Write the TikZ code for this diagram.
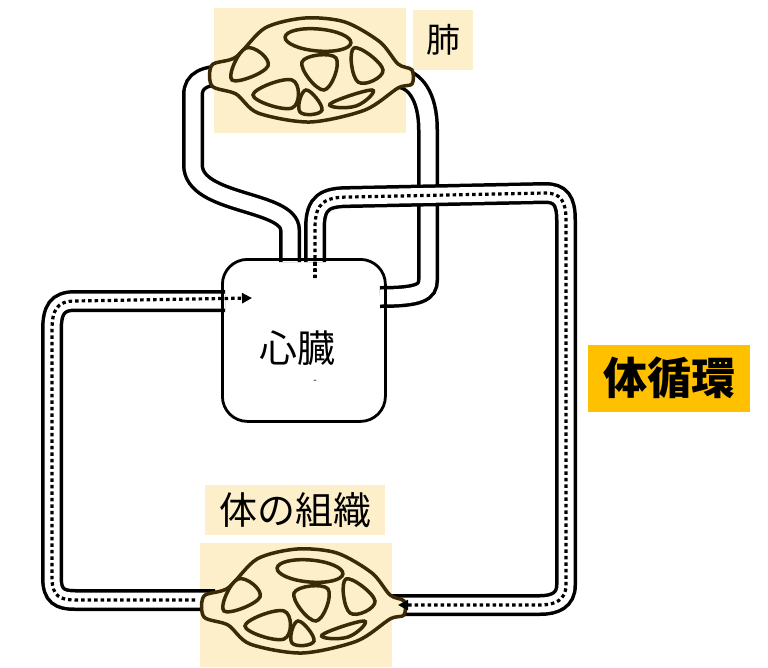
\documentclass[tikz,border=0pt]{standalone}
\usepackage{fontspec}
\newfontfamily\cjk{Noto Sans CJK JP}
\usetikzlibrary{arrows.meta}
\definecolor{bgy}{HTML}{FCEFC9}
\definecolor{brn}{HTML}{3A2A05}
\definecolor{gold}{HTML}{FFC000}
\newcommand\mybed{%
  \draw[brn,line width=3.5pt,fill=bgy] plot[smooth cycle,tension=0.5] coordinates{(212,65)(236,57)(265,28)(305,18)(345,22)(380,42)(398,64)(412,70)(412,84)(398,88)(365,110)(310,122)(258,113)(236,94)(212,86)};
  \draw[hole] (318,40) ellipse[x radius=33pt,y radius=11pt,rotate=-5];
  \draw[hole] plot[smooth cycle,tension=0.8] coordinates{(232,80)(246,48)(268,66)};
  \draw[hole] plot[smooth cycle,tension=0.8] coordinates{(302,62)(336,58)(324,90)};
  \draw[hole] plot[smooth cycle,tension=0.8] coordinates{(354,48)(383,70)(358,82)};
  \draw[hole] plot[smooth cycle,tension=0.8] coordinates{(253,95)(292,80)(292,108)};
  \draw[hole] plot[smooth cycle,tension=0.8] coordinates{(300,112)(306,90)(322,110)};
  \draw[hole] plot[smooth cycle,tension=0.8] coordinates{(330,104)(372,90)(356,106)};
}
\begin{document}
\begin{tikzpicture}[x=1pt,y=-1pt,
  tube/.style={draw=black,line width=3.5pt,double=white,double distance=15pt},
  dots/.style={line width=3.2pt,dash pattern=on 3.5pt off 3pt},
  hole/.style={brn,line width=3.5pt,fill=bgy},
  bgbox/.style={fill=bgy,draw=none},
  lbl/.style={font=\cjk\fontsize{38}{40}\selectfont,inner sep=0pt}]
\useasboundingbox (0,0) rectangle (768,667);
\fill[bgy] (214,8) rectangle (406,133);
\node[bgbox,minimum width=60pt,minimum height=60pt,lbl,font=\cjk\fontsize{34}{36}\selectfont] (lunglbl) at (443,40) {肺};
\fill[bgy] (200,543) rectangle (392,667);
\node[bgbox,minimum width=180pt,minimum height=50pt,lbl] (tislbl) at (295,510) {体の組織};
\coordinate (hA) at (290,262);
\coordinate (hB) at (315,262);
\coordinate (hR) at (380,297);
\coordinate (hL) at (225,301);
\coordinate (luL) at (228,75);
\coordinate (luR) at (400,78);
\coordinate (tiR) at (385,605);
\coordinate (tiL) at (215,600);
\path[tube] (hA) -- (290,230) .. controls (290,200) and (193,205) .. (193,165) -- (193,95) .. controls (193,80) and (205,75) .. (luL);
\path[tube] (luR) .. controls (414,80) and (428,95) .. (428,130) -- (428,280) .. controls (428,292) and (420,297) .. (hR);
\path[tube] (hB) -- (315,228) .. controls (315,202) and (325,197) .. (350,197) -- (545,193) .. controls (560,193) and (566,200) .. (566,220) -- (566,585) .. controls (566,600) and (555,605) .. (540,605) -- (tiR);
\path[tube] (hL) -- (75,301) .. controls (57,301) and (52,310) .. (52,330) -- (52,578) .. controls (52,596) and (60,600) .. (75,600) -- (tiL);
\mybed
\begin{scope}[shift={(-8,531)}]\mybed\end{scope}
\draw[dots,-{Triangle[length=10pt,width=10pt]}] (195,600) -- (75,600) .. controls (60,600) and (52,596) .. (52,578) -- (52,330) .. controls (52,310) and (57,301) .. (75,301) -- (252,298);
\draw[dots,-{Triangle[length=10pt,width=10pt]}] (315,278) -- (315,228) .. controls (315,202) and (325,197) .. (350,197) -- (545,193) .. controls (560,193) and (566,200) .. (566,220) -- (566,585) .. controls (566,600) and (555,605) .. (540,605) -- (398,605);
\node[draw,line width=2.8pt,fill=none,rounded corners=25pt,minimum width=163pt,minimum height=162pt,anchor=north west] (heart) at (221,258) {};
\draw[line width=3.2pt,dash pattern=on 3.5pt off 3pt] (315,262) -- (315,278);
\node[lbl] (heartlbl) at (297,348) {心臓};
\node[font=\cjk\fontsize{10}{10}\selectfont,inner sep=0pt] (mark) at (315,382) {-};
\node[fill=gold,minimum width=162pt,minimum height=67pt,inner sep=0pt,font=\cjk\bfseries\fontsize{44}{46}\selectfont] (sys) at (669,378) {体循環};
\end{tikzpicture}
\end{document}
